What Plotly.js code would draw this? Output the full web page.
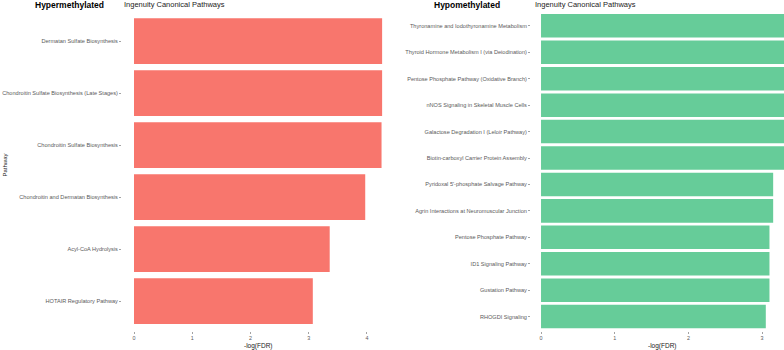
<!DOCTYPE html>
<html>
<head>
<meta charset="utf-8">
<script src="https://cdn.plot.ly/plotly-3.0.1.min.js"></script>
<style>
  html, body { margin: 0; padding: 0; background: #fff; }
  #chart { width: 784px; height: 350px; }
</style>
</head>
<body>
<div id="chart"></div>
<script>
// hypermethylated pathways, top to bottom
var hyperPathways = [
    "Dermatan Sulfate Biosynthesis",
    "Chondroitin Sulfate Biosynthesis (Late Stages)",
    "Chondroitin Sulfate Biosynthesis",
    "Chondroitin and Dermatan Biosynthesis",
    "Acyl-CoA Hydrolysis",
    "HOTAIR Regulatory Pathway"
];
var hyperScores = [4.26, 4.26, 4.25, 3.97, 3.36, 3.07];

// hypomethylated pathways, top to bottom (top six run past the edge)
var hypoPathways = [
    "Thyronamine and Iodothyronamine Metabolism",
    "Thyroid Hormone Metabolism I (via Deiodination)",
    "Pentose Phosphate Pathway (Oxidative Branch)",
    "nNOS Signaling in Skeletal Muscle Cells",
    "Galactose Degradation I (Leloir Pathway)",
    "Biotin-carboxyl Carrier Protein Assembly",
    "Pyridoxal 5'-phosphate Salvage Pathway",
    "Agrin Interactions at Neuromuscular Junction",
    "Pentose Phosphate Pathway",
    "ID1 Signaling Pathway",
    "Gustation Pathway",
    "RHOGDI Signaling"
];
var hypoScores = [3.4, 3.4, 3.4, 3.4, 3.4, 3.4, 3.15, 3.15, 3.10, 3.10, 3.10, 3.05];

var hyperTicks = [0, 1, 2, 3, 4];
var hypoTicks = [0, 1, 2, 3];

var fontFam = "Liberation Sans, Arial, sans-serif";
var W = 784, H = 350;

var trace1 = {
    x: hyperScores,
    y: hyperPathways,
    type: "bar",
    orientation: "h",
    width: 0.88,
    marker: { color: "#F8766D" },
    xaxis: "x",
    yaxis: "y",
    hoverinfo: "x+y"
};

var trace2 = {
    x: hypoScores,
    y: hypoPathways,
    type: "bar",
    orientation: "h",
    width: 0.89,
    marker: { color: "#66CC99" },
    xaxis: "x2",
    yaxis: "y2",
    hoverinfo: "x+y"
};

var yDom = [1 - 331 / H, 1 - 10 / H];

var xCommon = {
    showgrid: false,
    zeroline: false,
    showline: false,
    ticks: "outside",
    ticklen: 2,
    tickwidth: 0.6,
    tickcolor: "#666",
    tickfont: { size: 5.4, color: "#5a5a5a", family: fontFam }
};

var yCommon = {
    type: "category",
    showgrid: false,
    zeroline: false,
    showline: false,
    ticks: "outside",
    ticklen: 2,
    tickwidth: 0.6,
    tickcolor: "#666",
    tickfont: { size: 5.6, color: "#5a5a5a", family: fontFam }
};

var layout = {
    width: W,
    height: H,
    margin: { l: 0, r: 0, t: 0, b: 0 },
    paper_bgcolor: "#fff",
    plot_bgcolor: "#fff",
    showlegend: false,
    font: { family: fontFam },
    xaxis: Object.assign({}, xCommon, {
        domain: [122 / W, 394 / W],
        range: [-0.206, 4.464],
        tickvals: hyperTicks,
        anchor: "y"
    }),
    yaxis: Object.assign({}, yCommon, {
        domain: yDom,
        range: [5.573, -0.6],
        anchor: "x"
    }),
    xaxis2: Object.assign({}, xCommon, {
        domain: [531 / W, 1],
        range: [-0.136, 3.297],
        tickvals: hypoTicks,
        anchor: "y2"
    }),
    yaxis2: Object.assign({}, yCommon, {
        domain: yDom,
        range: [11.545, -0.6],
        anchor: "x2"
    }),
    annotations: [
        { text: "<b>Hypermethylated</b>", x: 33 / W, y: 1 - 4.5 / H, xref: "paper", yref: "paper",
          xanchor: "left", yanchor: "middle", showarrow: false, font: { size: 8.5, color: "#000" } },
        { text: "Ingenuity Canonical Pathways", x: 122 / W, y: 1 - 4 / H, xref: "paper", yref: "paper",
          xanchor: "left", yanchor: "middle", showarrow: false, font: { size: 7.5, color: "#222" } },
        { text: "<b>Hypomethylated</b>", x: 432 / W, y: 1 - 4.5 / H, xref: "paper", yref: "paper",
          xanchor: "left", yanchor: "middle", showarrow: false, font: { size: 8.5, color: "#000" } },
        { text: "Ingenuity Canonical Pathways", x: 533 / W, y: 1 - 4 / H, xref: "paper", yref: "paper",
          xanchor: "left", yanchor: "middle", showarrow: false, font: { size: 7.5, color: "#222" } },
        { text: "-log(FDR)", x: 258 / W, y: 1 - 345.5 / H, xref: "paper", yref: "paper",
          xanchor: "center", yanchor: "middle", showarrow: false, font: { size: 6.5, color: "#222" } },
        { text: "-log(FDR)", x: 662 / W, y: 1 - 345.5 / H, xref: "paper", yref: "paper",
          xanchor: "center", yanchor: "middle", showarrow: false, font: { size: 6.5, color: "#222" } },
        { text: "Pathway", x: 4.5 / W, y: 1 - 165 / H, xref: "paper", yref: "paper",
          xanchor: "center", yanchor: "middle", textangle: -90, showarrow: false, font: { size: 6, color: "#222" } }
    ]
};

Plotly.newPlot("chart", [trace1, trace2], layout, { displayModeBar: false, staticPlot: true });
</script>
</body>
</html>
